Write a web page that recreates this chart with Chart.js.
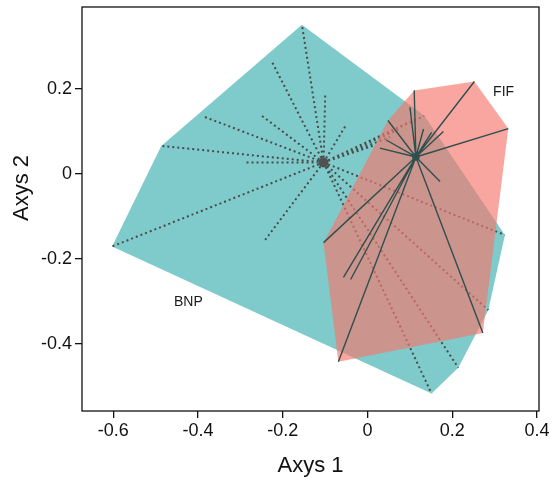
<!DOCTYPE html>
<html>
<head>
<meta charset="utf-8">
<script src="https://cdn.jsdelivr.net/npm/chart.js@4/dist/chart.umd.min.js"></script>
<style>
  html, body { margin: 0; padding: 0; background: #fff; }
  #wrap { width: 560px; height: 482px; }
</style>
</head>
<body>
<div id="wrap"><canvas id="ord" width="560" height="482"></canvas></div>
<script>
// groups and their site scores on the two ordination axes
const groups = ["BNP", "FIF"];

const bnpCentroid = [-0.104, 0.027];
const bnpX = [-0.155, -0.226, -0.100, -0.053, -0.251, -0.386, -0.487, -0.289, -0.603, -0.242,
              0.134, 0.100, 0.072, 0.053, 0.018, 0.324, 0.285, 0.214, 0.151];
const bnpY = [0.352, 0.265, 0.187, 0.112, 0.138, 0.135, 0.066, 0.027, -0.171, -0.156,
              0.137, 0.123, 0.104, 0.087, 0.068, -0.144, -0.321, -0.457, -0.518];

const fifCentroid = [0.114, 0.040];
const fifX = [0.110, 0.100, 0.252, 0.332, 0.132, 0.151, 0.179, 0.048, 0.044, 0.029,
              0.171, 0.272, -0.069, -0.104, -0.057, -0.040];
const fifY = [0.197, 0.157, 0.218, 0.107, 0.106, 0.098, 0.100, 0.126, 0.080, 0.061,
              -0.018, -0.375, -0.443, -0.162, -0.244, -0.249];

// where the group names sit (data units)
const labelX = [-0.423, 0.321];
const labelY = [-0.302, 0.194];

const xTicks = [-0.6, -0.4, -0.2, 0, 0.2, 0.4];
const yTicks = [-0.4, -0.2, 0, 0.2];

const FONT = "'Liberation Sans', Arial, Helvetica, sans-serif";

function toPoints(xs, ys) {
    return xs.map((x, i) => ({ x: x, y: ys[i] }));
}

// monotone chain convex hull, closed (first point repeated)
function hull(pts) {
    const p = pts.slice().sort((a, b) => a.x - b.x || a.y - b.y);
    const cross = (o, a, b) => (a.x - o.x) * (b.y - o.y) - (a.y - o.y) * (b.x - o.x);
    const lower = [], upper = [];
    for (const q of p) {
        while (lower.length >= 2 && cross(lower[lower.length - 2], lower[lower.length - 1], q) <= 0) lower.pop();
        lower.push(q);
    }
    for (let i = p.length - 1; i >= 0; i--) {
        const q = p[i];
        while (upper.length >= 2 && cross(upper[upper.length - 2], upper[upper.length - 1], q) <= 0) upper.pop();
        upper.push(q);
    }
    const h = lower.slice(0, -1).concat(upper.slice(0, -1));
    h.push(h[0]);
    return h;
}

// centroid -> site segments, broken by gaps
function spider(c, pts) {
    const out = [];
    pts.forEach(p => {
        out.push({ x: c[0], y: c[1] }, { x: p.x, y: p.y }, { x: null, y: null });
    });
    return out;
}

const bnpPts = toPoints(bnpX, bnpY);
const fifPts = toPoints(fifX, fifY);

// box, y title and group names
const extras = {
    id: "extras",
    afterDatasetsDraw(chart) {
        const { ctx, scales } = chart;
        ctx.save();
        ctx.fillStyle = "#1a1a1a";
        ctx.font = "14px " + FONT;
        ctx.textAlign = "center";
        ctx.textBaseline = "middle";
        groups.forEach((g, i) => {
            ctx.fillText(g, scales.x.getPixelForValue(labelX[i]), scales.y.getPixelForValue(labelY[i]));
        });
        ctx.restore();
    },
    afterDraw(chart) {
        const { ctx, chartArea: a } = chart;
        ctx.save();
        ctx.strokeStyle = "#111";
        ctx.lineWidth = 1.3;
        ctx.strokeRect(a.left, a.top, a.right - a.left, a.bottom - a.top);

        ctx.fillStyle = "#111";
        ctx.font = "22px " + FONT;
        ctx.textAlign = "center";
        ctx.textBaseline = "middle";
        ctx.translate(22, 188);
        ctx.rotate(-Math.PI / 2);
        ctx.fillText("Axys 2", 0, 0);
        ctx.restore();
    }
};

const axisBase = {
    type: "linear",
    border: { display: false },
    grid: {
        drawOnChartArea: false,
        drawTicks: true,
        tickLength: 7,
        color: "#111",
        lineWidth: 1.3
    },
    ticks: {
        color: "#111",
        font: { size: 18, family: FONT }
    }
};

new Chart(document.getElementById("ord"), {
    type: "scatter",
    data: {
        datasets: [
            {
                label: "BNP hull",
                data: hull(bnpPts),
                showLine: true,
                fill: "shape",
                backgroundColor: "#7fcbcc",
                borderWidth: 0,
                borderColor: "rgba(0,0,0,0)",
                pointRadius: 0,
                order: 6
            },
            {
                label: "BNP spider",
                data: spider(bnpCentroid, bnpPts),
                showLine: true,
                spanGaps: false,
                borderColor: "#4a4a4a",
                borderWidth: 2,
                borderDash: [2, 3],
                pointRadius: 0,
                order: 5
            },
            {
                label: "FIF hull",
                data: hull(fifPts),
                showLine: true,
                fill: "shape",
                backgroundColor: "rgba(244,118,108,0.65)",
                borderWidth: 0,
                borderColor: "rgba(0,0,0,0)",
                pointRadius: 0,
                order: 4
            },
            {
                label: "FIF spider",
                data: spider(fifCentroid, fifPts),
                showLine: true,
                spanGaps: false,
                borderColor: "#2f4f4f",
                borderWidth: 1.4,
                pointRadius: 0,
                order: 3
            },
            {
                label: "BNP centroid",
                data: [{ x: bnpCentroid[0], y: bnpCentroid[1] }],
                pointRadius: 5,
                backgroundColor: "#505050",
                borderWidth: 0,
                order: 2
            },
            {
                label: "FIF centroid",
                data: [{ x: fifCentroid[0], y: fifCentroid[1] }],
                pointRadius: 3.8,
                backgroundColor: "#2f4f4f",
                borderWidth: 0,
                order: 1
            }
        ]
    },
    options: {
        responsive: false,
        devicePixelRatio: 1,
        animation: false,
        layout: { padding: { left: 0, right: 21, top: 7, bottom: 0 } },
        plugins: {
            legend: { display: false },
            tooltip: { enabled: false }
        },
        elements: { line: { tension: 0 } },
        scales: {
            x: {
                ...axisBase,
                position: "bottom",
                min: -0.674,
                max: 0.4045,
                ticks: { ...axisBase.ticks, padding: 2 },
                afterBuildTicks: (s) => { s.ticks = xTicks.map(v => ({ value: v })); },
                afterFit: (s) => {
                    s.height = 71;
                    s.paddingLeft = 0;
                    s.paddingRight = 0;
                },
                title: {
                    display: true,
                    text: "Axys 1",
                    color: "#111",
                    font: { size: 22, family: FONT },
                    padding: { top: 0, bottom: 3 }
                }
            },
            y: {
                ...axisBase,
                position: "left",
                min: -0.559,
                max: 0.3936,
                ticks: { ...axisBase.ticks, padding: 3 },
                afterBuildTicks: (s) => { s.ticks = yTicks.map(v => ({ value: v })); },
                afterFit: (s) => {
                    s.width = 82;
                    s.paddingTop = 0;
                    s.paddingBottom = 0;
                }
            }
        }
    },
    plugins: [extras]
});
</script>
</body>
</html>
